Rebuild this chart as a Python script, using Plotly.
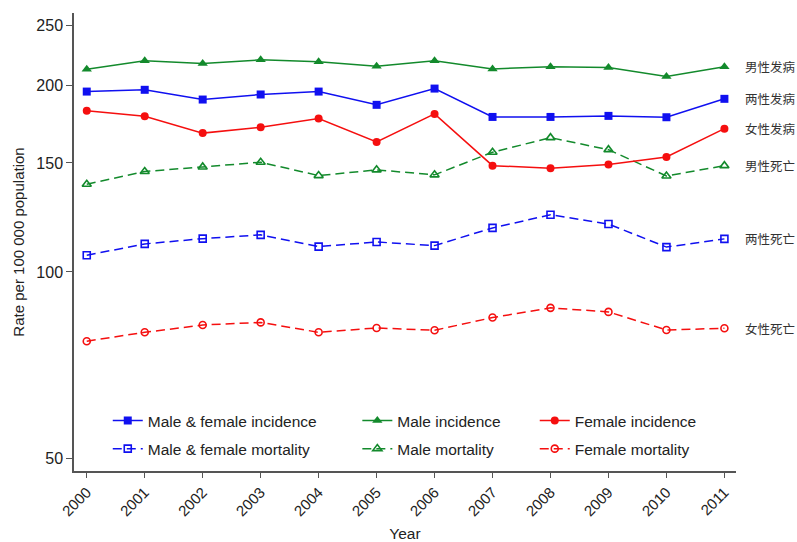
import math
import plotly.graph_objects as go

years = list(range(2000, 2012))

# Incidence and mortality rates per 100 000 population
both_incidence = [195.6, 196.9, 189.9, 193.5, 195.6, 186.2, 197.8, 178.0, 178.0, 178.7, 177.8, 190.4]
male_incidence = [212.6, 219.3, 217.1, 220.1, 218.5, 215.0, 219.3, 212.8, 214.6, 213.9, 206.8, 214.6]
female_incidence = [182.2, 178.4, 167.6, 171.3, 176.9, 162.2, 180.0, 148.5, 147.1, 149.1, 153.4, 170.4]
both_mortality = [106.4, 111.0, 113.2, 114.8, 109.9, 111.8, 110.3, 117.8, 123.7, 119.5, 109.7, 113.1]
male_mortality = [138.6, 145.3, 147.8, 150.4, 143.1, 146.2, 143.5, 156.1, 164.8, 157.6, 142.9, 148.5]
female_mortality = [77.3, 79.9, 82.1, 82.9, 79.9, 81.2, 80.5, 84.4, 87.5, 86.2, 80.6, 81.1]

y_ticks = [50, 100, 150, 200, 250]

BLUE = "#1010f0"
GREEN = "#138a2c"
RED = "#f50f0f"
AXIS = "#555555"
FONT = "Liberation Sans, Arial, sans-serif"
CJK = "Noto Sans CJK SC"

series = [
    # name, values, colour, symbol, dashed, legend, end label
    ("Male & female incidence", both_incidence, BLUE, "square", False, "legend", "两性发病"),
    ("Male & female mortality", both_mortality, BLUE, "square-open", True, "legend", "两性死亡"),
    ("Male incidence", male_incidence, GREEN, "triangle-up", False, "legend2", "男性发病"),
    ("Male mortality", male_mortality, GREEN, "triangle-up-open", True, "legend2", "男性死亡"),
    ("Female incidence", female_incidence, RED, "circle", False, "legend3", "女性发病"),
    ("Female mortality", female_mortality, RED, "circle-open", True, "legend3", "女性死亡"),
]

fig = go.Figure()
for name, vals, color, symbol, dashed, leg, label in series:
    is_open = symbol.endswith("open")
    size = 9 if "triangle" in symbol else 8
    if is_open:
        size -= 1
    fig.add_trace(go.Scatter(
        x=years, y=vals, name=name, mode="lines+markers",
        legend=leg, legendgroup=name,
        line=dict(color=color, width=1.5, dash="9px,5px" if dashed else "solid"),
        marker=dict(symbol=symbol, size=size, color=color,
                    line=dict(color=color, width=1.6 if is_open else 0)),
    ))
    fig.add_annotation(
        x=1.01, xref="paper", xanchor="left",
        y=math.log10(vals[-1]), yref="y", yanchor="middle",
        text=label, showarrow=False,
        font=dict(family=CJK, size=12.5, color="#333333"),
    )

legend_style = dict(
    orientation="v", xanchor="left", yanchor="top",
    bgcolor="rgba(0,0,0,0)", borderwidth=0,
    font=dict(family=FONT, size=15.5, color="#222222"),
    tracegroupgap=5, itemwidth=30,
)

fig.update_layout(
    width=797, height=542,
    margin=dict(l=74, r=61, t=13, b=71),
    paper_bgcolor="white", plot_bgcolor="white",
    font=dict(family=FONT, color="#222222"),
    showlegend=True,
    legend=dict(x=0.051, y=0.1465, **legend_style),
    legend2=dict(x=0.428, y=0.1465, **legend_style),
    legend3=dict(x=0.696, y=0.1465, **legend_style),
    xaxis=dict(
        range=[1999.78, 2011.2], tickmode="array", tickvals=years,
        ticktext=[str(y) for y in years], tickangle=-45,
        tickfont=dict(size=15, color="#222222"),
        showline=True, linecolor=AXIS, linewidth=1.5,
        ticks="outside", ticklen=5, tickcolor=AXIS, tickwidth=1.2,
        showgrid=False, zeroline=False, automargin=False,
        title=dict(text="Year", font=dict(size=15.5, color="#222222"), standoff=18),
    ),
    yaxis=dict(
        type="log", range=[math.log10(47.7), math.log10(262)],
        tickmode="array", tickvals=y_ticks, ticktext=[str(v) for v in y_ticks],
        tickfont=dict(size=16, color="#222222"),
        showline=True, linecolor=AXIS, linewidth=1.5,
        ticks="outside", ticklen=6, tickcolor=AXIS, tickwidth=1.2,
        showgrid=False, zeroline=False, automargin=False,
        title=dict(text="Rate per 100 000 population", font=dict(size=15, color="#222222"), standoff=8),
    ),
)

fig.write_html("out.html")
